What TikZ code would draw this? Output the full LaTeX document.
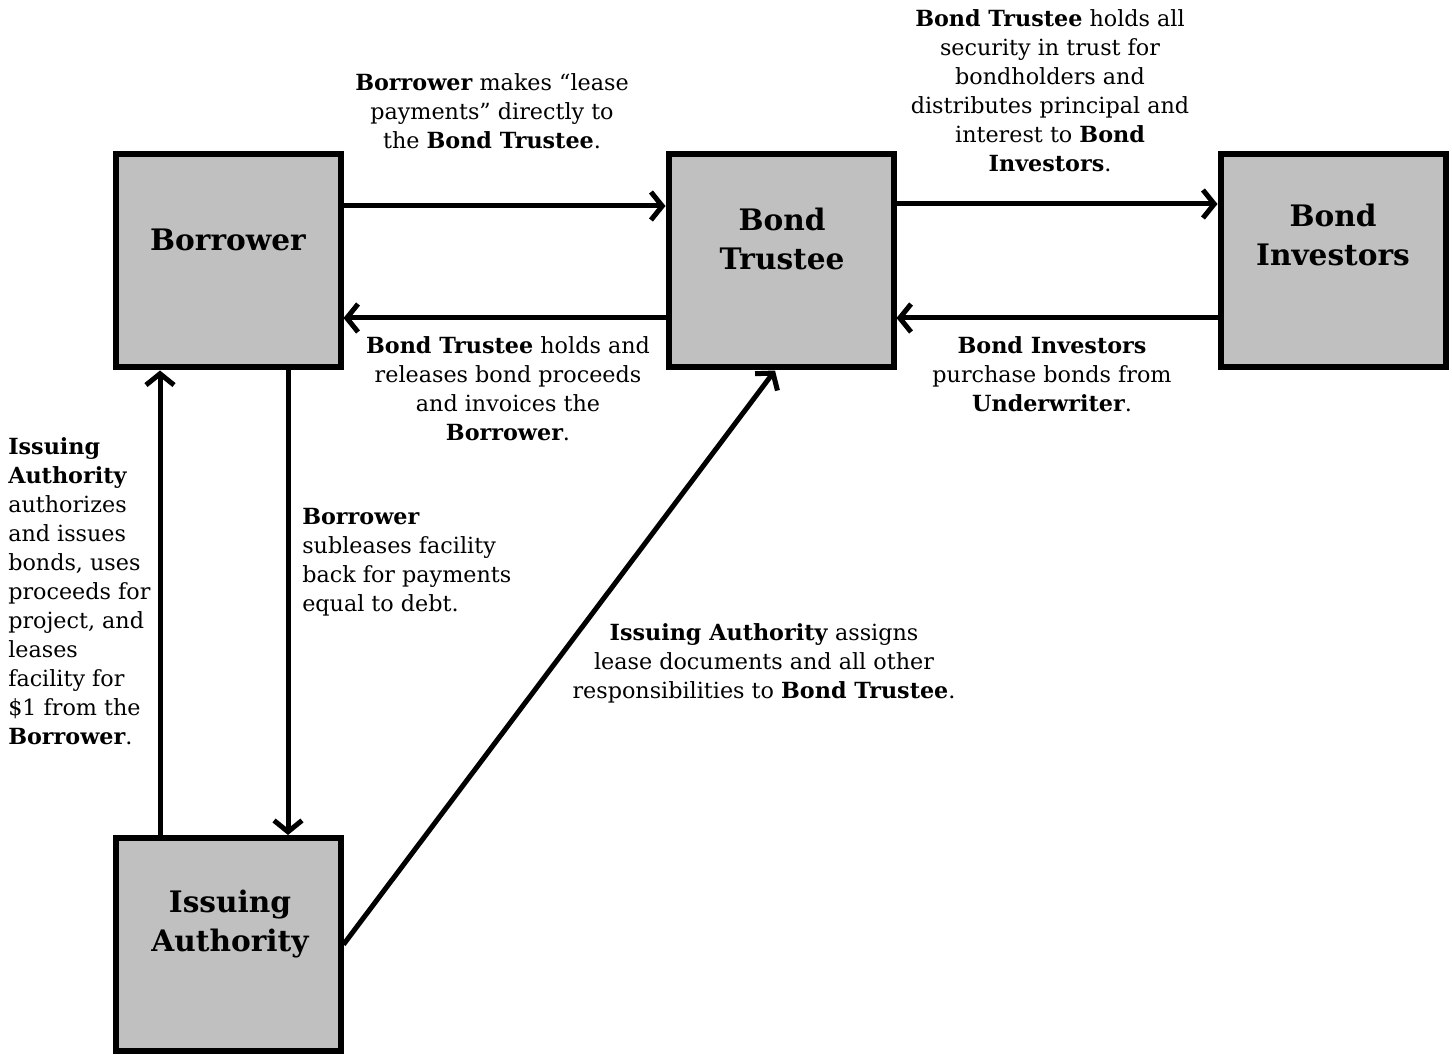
\documentclass[tikz,border=0pt]{standalone}
\usepackage{fontspec}
\setmainfont{DejaVu Serif}
\usetikzlibrary{arrows.meta}
\begin{document}
\begin{tikzpicture}[x=0.75pt,y=-0.75pt,
  box/.style={draw=black,fill=boxgray,line width=4.5pt,minimum width=168.75pt,minimum height=159.75pt,inner sep=0pt},
  boxtext/.style={font=\fontsize{22.2}{28.8}\selectfont\bfseries,align=center,inner sep=0pt},
  note/.style={font=\fontsize{16.7}{21.75}\selectfont,inner sep=0pt},
  arr/.style={line width=3.75pt,-{Straight Barb[length=8.5pt,width=21pt]}}]
\definecolor{boxgray}{HTML}{C0C0C0}
\useasboundingbox (0,0) rectangle (1452,1055);
% boxes
\node[box] (bor) at (228,261) {};
\node[box] (tru) at (781,261) {};
\node[box] (inv) at (1333,261) {};
\node[box] (iss) at (228,944.5) {};
\node[boxtext] (borl) at (228,240) {Borrower};
\node[boxtext] (trul) at (782,239) {Bond\\Trustee};
\node[boxtext] (invl) at (1333,235) {Bond\\Investors};
\node[boxtext] (issl) at (230,924) {Issuing\\Authority};
% arrows
\draw[arr] (bor.east |- 0,206) -- (tru.west |- 0,206);
\draw[arr] (tru.west |- 0,318) -- (bor.east |- 0,318);
\draw[arr] (tru.east |- 0,204) -- (inv.west |- 0,204);
\draw[arr] (inv.west |- 0,318) -- (tru.east |- 0,318);
\draw[arr] (iss.north -| 160,0) -- (bor.south -| 160,0);
\draw[arr] (bor.south -| 288,0) -- (iss.north -| 288,0);
\draw[arr] (iss.east) -- (tru.south -| 775,0);
% notes
\node[note,align=center] (n1) at (492,111) {\textbf{Borrower} makes “lease\\payments” directly to\\the \textbf{Bond Trustee}.};
\node[note,align=center] (n2) at (508,389) {\textbf{Bond Trustee} holds and\\releases bond proceeds\\and invoices the\\\textbf{Borrower}.};
\node[note,align=center] (n3) at (1050,90.5) {\textbf{Bond Trustee} holds all\\security in trust for\\bondholders and\\distributes principal and\\interest to \textbf{Bond}\\\textbf{Investors}.};
\node[note,align=center] (n4) at (1052,374) {\textbf{Bond Investors}\\purchase bonds from\\\textbf{Underwriter}.};
\node[note,align=left,anchor=west] (n5) at (8,591) {\textbf{Issuing}\\\textbf{Authority}\\authorizes\\and issues\\bonds, uses\\proceeds for\\project, and\\leases\\facility for\\\$1 from the\\\textbf{Borrower}.};
\node[note,align=left,anchor=west] (n6) at (302,562.5) {\textbf{Borrower}\\subleases facility\\back for payments\\equal to debt.};
\node[note,align=center] (n7) at (764,663) {\textbf{Issuing Authority} assigns\\lease documents and all other\\responsibilities to \textbf{Bond Trustee}.};
\end{tikzpicture}
\end{document}
